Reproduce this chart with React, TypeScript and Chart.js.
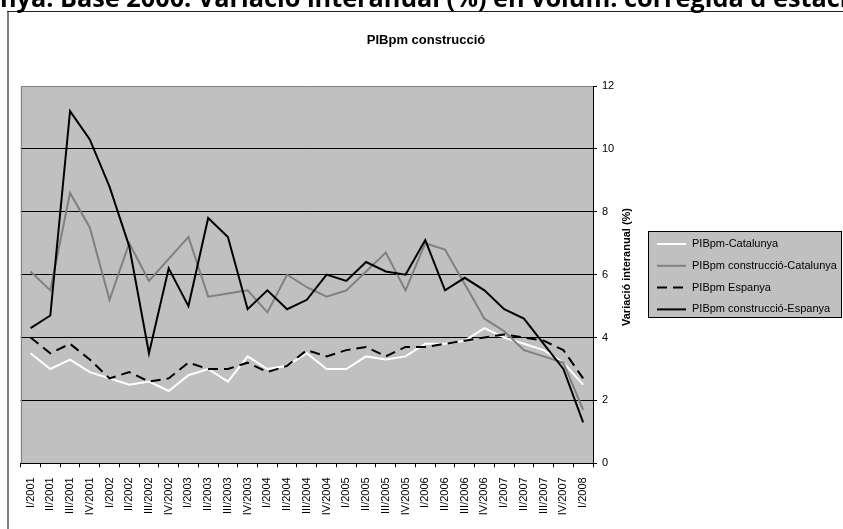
import { useEffect, useRef } from 'react';
import { Chart, registerables } from 'chart.js';

Chart.register(...registerables);

const quarters = [
  'I/2001', 'II/2001', 'III/2001', 'IV/2001',
  'I/2002', 'II/2002', 'III/2002', 'IV/2002',
  'I/2003', 'II/2003', 'III/2003', 'IV/2003',
  'I/2004', 'II/2004', 'III/2004', 'IV/2004',
  'I/2005', 'II/2005', 'III/2005', 'IV/2005',
  'I/2006', 'II/2006', 'III/2006', 'IV/2006',
  'I/2007', 'II/2007', 'III/2007', 'IV/2007',
  'I/2008',
];

const pibCatalunya = [3.5, 3.0, 3.3, 2.9, 2.7, 2.5, 2.6, 2.3, 2.8, 3.0, 2.6, 3.4, 3.0, 3.1, 3.5, 3.0, 3.0, 3.4, 3.3, 3.4, 3.8, 3.8, 3.9, 4.3, 4.0, 3.8, 3.6, 3.2, 2.5];
const construccioCatalunya = [6.1, 5.5, 8.6, 7.5, 5.2, 7.0, 5.8, 6.5, 7.2, 5.3, 5.4, 5.5, 4.8, 6.0, 5.6, 5.3, 5.5, 6.1, 6.7, 5.5, 7.0, 6.8, 5.7, 4.6, 4.2, 3.6, 3.4, 3.2, 1.7];
const pibEspanya = [4.0, 3.5, 3.8, 3.3, 2.7, 2.9, 2.6, 2.7, 3.2, 3.0, 3.0, 3.2, 2.9, 3.1, 3.6, 3.4, 3.6, 3.7, 3.4, 3.7, 3.7, 3.8, 3.9, 4.0, 4.1, 4.0, 3.9, 3.6, 2.7];
const construccioEspanya = [4.3, 4.7, 11.2, 10.3, 8.8, 6.9, 3.5, 6.2, 5.0, 7.8, 7.2, 4.9, 5.5, 4.9, 5.2, 6.0, 5.8, 6.4, 6.1, 6.0, 7.1, 5.5, 5.9, 5.5, 4.9, 4.6, 3.8, 3.0, 1.3];

const yMin = 0;
const yMax = 12;
const yStep = 2;

const pageTitle = "nya. Base 2000. Variació interanual (%) en volum. corregida d'estaci";
const chartTitle = 'PIBpm construcció';
const yAxisTitle = 'Variació interanual (%)';

const FONT = '"Liberation Sans", Arial, sans-serif';

const decorPlugin = {
  id: 'decor',
  beforeDraw(chart: any) {
    const { ctx, chartArea: a } = chart;
    ctx.save();
    ctx.fillStyle = '#ffffff';
    ctx.fillRect(0, 0, chart.width, chart.height);
    // outer chart border
    ctx.strokeStyle = '#808080';
    ctx.lineWidth = 2;
    ctx.beginPath();
    ctx.moveTo(8, chart.height);
    ctx.lineTo(8, 11);
    ctx.stroke();
    ctx.strokeStyle = '#222222';
    ctx.lineWidth = 1;
    ctx.beginPath();
    ctx.moveTo(7, 11.5);
    ctx.lineTo(chart.width, 11.5);
    ctx.stroke();
    // plot background
    ctx.fillStyle = '#c0c0c0';
    ctx.fillRect(a.left, a.top, a.right - a.left, a.bottom - a.top);
    ctx.restore();
  },
  beforeDatasetsDraw(chart: any) {
    const { ctx, chartArea: a } = chart;
    ctx.save();
    ctx.strokeStyle = '#808080';
    ctx.lineWidth = 1;
    ctx.beginPath();
    ctx.moveTo(Math.round(a.left) + 0.5, a.bottom);
    ctx.lineTo(Math.round(a.left) + 0.5, Math.round(a.top) + 0.5);
    ctx.lineTo(a.right, Math.round(a.top) + 0.5);
    ctx.stroke();
    ctx.restore();
  },
  afterDraw(chart: any) {
    const { ctx } = chart;
    ctx.save();
    // cut-off page title
    ctx.fillStyle = '#000';
    ctx.font = 'bold 20px "Open Sans", sans-serif';
    const w = ctx.measureText(pageTitle).width;
    const size = 20 * 848 / w;
    ctx.font = `bold ${size}px "Open Sans", sans-serif`;
    ctx.textAlign = 'left';
    ctx.textBaseline = 'alphabetic';
    ctx.fillText(pageTitle, 0, 7);

    // chart title
    ctx.font = `bold 13px ${FONT}`;
    ctx.textAlign = 'center';
    ctx.textBaseline = 'middle';
    ctx.fillText(chartTitle, 426, 40);

    // y axis title
    ctx.save();
    ctx.translate(627, 267);
    ctx.rotate(-Math.PI / 2);
    ctx.font = `bold 11px ${FONT}`;
    ctx.textAlign = 'center';
    ctx.textBaseline = 'middle';
    ctx.fillText(yAxisTitle, 0, 0);
    ctx.restore();

    // legend
    const lx = 648.5, ly = 231.5, lw = 193, lh = 86;
    ctx.fillStyle = '#c0c0c0';
    ctx.fillRect(lx, ly, lw, lh);
    ctx.strokeStyle = '#000';
    ctx.lineWidth = 1;
    ctx.strokeRect(lx, ly, lw, lh);
    ctx.font = `11px ${FONT}`;
    ctx.textAlign = 'left';
    ctx.textBaseline = 'middle';
    chart.data.datasets.forEach((ds: any, i: number) => {
      const y = 244 + i * 21.8;
      ctx.strokeStyle = ds.borderColor;
      ctx.lineWidth = ds.borderWidth;
      ctx.setLineDash(ds.borderDash || []);
      ctx.beginPath();
      ctx.moveTo(657, y);
      ctx.lineTo(686, y);
      ctx.stroke();
      ctx.setLineDash([]);
      ctx.fillStyle = '#000';
      ctx.fillText(ds.label, 692, y);
    });
    ctx.restore();
  },
};

export default function App() {
  const ref = useRef<HTMLCanvasElement>(null);

  useEffect(() => {
    const chart = new Chart(ref.current as HTMLCanvasElement, {
      type: 'line',
      data: {
        labels: quarters,
        datasets: [
          {
            label: 'PIBpm-Catalunya',
            data: pibCatalunya,
            borderColor: '#ffffff',
            borderWidth: 2,
            pointRadius: 0,
            tension: 0,
            order: 4,
          },
          {
            label: 'PIBpm construcció-Catalunya',
            data: construccioCatalunya,
            borderColor: '#808080',
            borderWidth: 2,
            pointRadius: 0,
            tension: 0,
            order: 3,
          },
          {
            label: 'PIBpm Espanya',
            data: pibEspanya,
            borderColor: '#000000',
            borderWidth: 2,
            borderDash: [10, 6],
            pointRadius: 0,
            tension: 0,
            order: 2,
          },
          {
            label: 'PIBpm construcció-Espanya',
            data: construccioEspanya,
            borderColor: '#000000',
            borderWidth: 2,
            pointRadius: 0,
            tension: 0,
            order: 1,
          },
        ],
      },
      options: {
        animation: false,
        responsive: false,
        devicePixelRatio: 1,
        layout: { padding: { top: 86, left: 20.7, right: 200, bottom: 0 } },
        plugins: {
          legend: { display: false },
          title: { display: false },
          tooltip: { enabled: false },
        },
        scales: {
          x: {
            type: 'category',
            offset: true,
            grid: {
              offset: true,
              drawOnChartArea: false,
              drawTicks: true,
              tickLength: 4,
              color: '#000',
              tickColor: '#000',
            },
            border: { display: true, color: '#000', width: 1 },
            ticks: {
              autoSkip: false,
              maxRotation: 90,
              minRotation: 90,
              padding: 10,
              color: '#000',
              font: { family: FONT, size: 11 },
            },
            afterFit(s: any) {
              s.height = 65.7;
            },
          },
          y: {
            position: 'right',
            min: yMin,
            max: yMax,
            ticks: {
              stepSize: yStep,
              padding: 5,
              color: '#000',
              font: { family: FONT, size: 11 },
            },
            grid: {
              color: (c: any) => (c.tick && c.tick.value === yMax ? 'rgba(0,0,0,0)' : '#000'),
              tickColor: '#000',
              tickLength: 4,
              drawTicks: true,
            },
            border: { display: true, color: '#000', width: 1 },
            afterFit(s: any) {
              s.width = 50;
            },
          },
        },
      },
      plugins: [decorPlugin],
    } as any);
    return () => chart.destroy();
  }, []);

  return (
    <div style={{ position: 'fixed', left: 0, top: 0, width: 843, height: 529, background: '#fff' }}>
      <canvas ref={ref} width={843} height={529} style={{ display: 'block', width: 843, height: 529 }} />
    </div>
  );
}
